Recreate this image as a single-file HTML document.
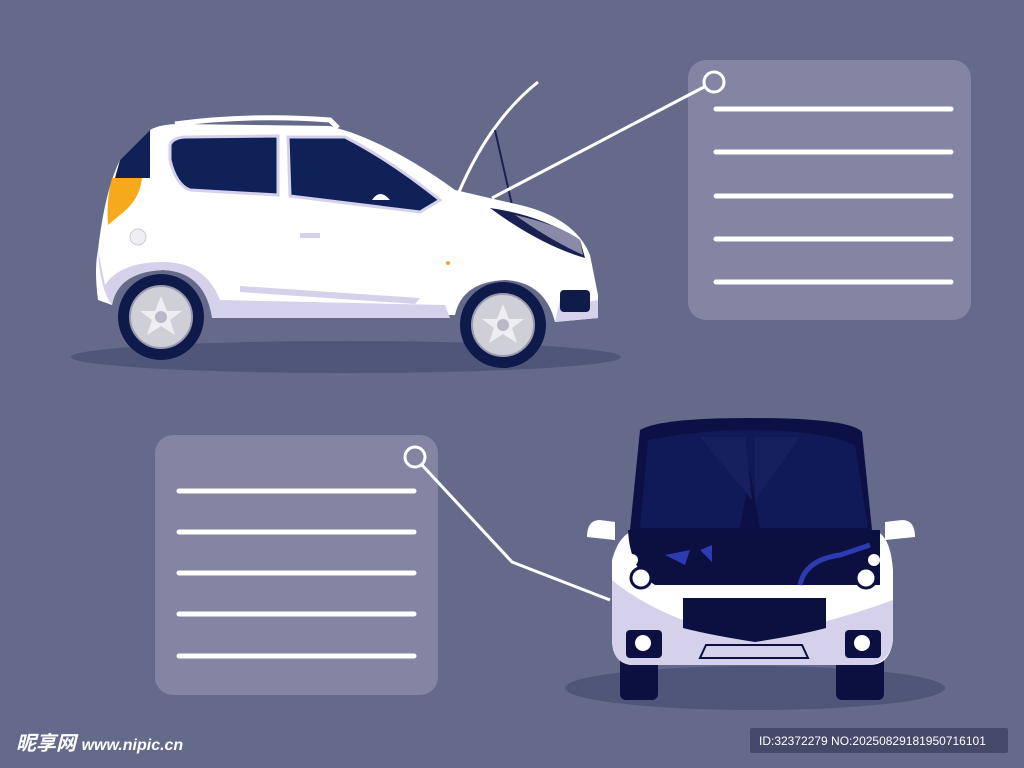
<!DOCTYPE html>
<html><head><meta charset="utf-8"><style>
html,body{margin:0;padding:0;width:1024px;height:768px;overflow:hidden;background:#656a8b}
</style></head><body>
<svg width="1024" height="768" viewBox="0 0 1024 768" xmlns="http://www.w3.org/2000/svg">
<rect width="1024" height="768" fill="#656a8b"/>
<rect x="688" y="60" width="283" height="260" rx="18" fill="#8385a2"/>
<rect x="155" y="435" width="283" height="260" rx="18" fill="#8385a2"/>
<g stroke="#fff" stroke-width="5" stroke-linecap="round">
<line x1="716" y1="109" x2="951" y2="109"/><line x1="716" y1="152" x2="951" y2="152"/>
<line x1="716" y1="196" x2="951" y2="196"/><line x1="716" y1="239" x2="951" y2="239"/>
<line x1="716" y1="282" x2="951" y2="282"/>
<line x1="179" y1="491" x2="414" y2="491"/><line x1="179" y1="532" x2="414" y2="532"/>
<line x1="179" y1="573" x2="414" y2="573"/><line x1="179" y1="614" x2="414" y2="614"/>
<line x1="179" y1="656" x2="414" y2="656"/>
</g>
<ellipse cx="346" cy="357" rx="275" ry="16" fill="#50557a"/>
<ellipse cx="755" cy="688" rx="190" ry="22" fill="#50557a"/>
<!-- side car -->
<path d="M459 192 Q490 120 538 82" stroke="#fff" stroke-width="3" fill="none"/>
<line x1="495" y1="130" x2="512" y2="205" stroke="#1a2050" stroke-width="2"/>
<path d="M175 124 Q250 114 330 120 L338 128" stroke="#fff" stroke-width="5" fill="none"/>
<path d="M150 130 Q160 124 180 124 L330 126 L350 132 Q400 150 455 190 L520 205 Q575 218 590 255 L598 295 L598 318 L555 322 Q545 282 505 280 Q462 282 455 315 L215 318 Q210 272 163 270 Q118 272 112 305 L98 300 Q94 270 98 250 Q105 190 120 160 Z" fill="#fff"/>
<path d="M98 250 Q100 290 112 305 Q118 272 163 270 Q205 272 212 318 L450 318 L445 305 L220 300 Q205 262 163 262 Q120 262 105 285 Z" fill="#d5d1ea"/>
<path d="M240 286 L420 298 L415 304 L240 292 Z" fill="#d5d1ea"/>
<path d="M555 322 L598 318 L598 300 Q575 305 560 300 Z" fill="#d5d1ea"/>
<path d="M120 160 L150 130 L150 178 L115 178 Z" fill="#0f2157"/>
<path d="M112 178 L142 178 Q140 200 120 215 L108 225 Q106 200 112 178 Z" fill="#f7a91c"/>
<path d="M170 145 Q172 138 185 137 L278 136 L278 195 L190 190 Q176 185 170 160 Z" fill="#0f2157" stroke="#d5d1ea" stroke-width="3"/>
<path d="M288 137 L345 137 Q390 160 440 200 L420 212 L290 196 Z" fill="#0f2157" stroke="#d5d1ea" stroke-width="3"/>
<path d="M372 200 Q380 188 390 200 Z" fill="#fff"/>
<path d="M490 208 Q540 215 580 240 L585 258 Q540 245 490 208 Z" fill="#1a2050"/>
<path d="M515 215 Q560 225 580 240 L583 255 Q550 240 515 215Z" fill="#8a89a8"/>
<circle cx="138" cy="237" r="8" fill="#eeeef5" stroke="#ccc"/>
<rect x="300" y="233" width="20" height="5" fill="#d5d1ea"/>
<rect x="560" y="290" width="30" height="22" rx="4" fill="#0f1c4a"/>
<circle cx="448" cy="263" r="2" fill="#f7a91c"/>
<g>
<circle cx="161" cy="317" r="43" fill="#0e1a4a"/>
<circle cx="161" cy="317" r="31" fill="#cfcfd8" stroke="#9a9aae" stroke-width="2"/>
<polygon points="161,296 167,311 182,311 170,320 175,335 161,326 147,335 152,320 140,311 155,311" fill="#eeeef2"/>
<circle cx="161" cy="317" r="6" fill="#b8b8c6"/>
<circle cx="503" cy="325" r="43" fill="#0e1a4a"/>
<circle cx="503" cy="325" r="31" fill="#cfcfd8" stroke="#9a9aae" stroke-width="2"/>
<polygon points="503,304 509,319 524,319 512,328 517,343 503,334 489,343 494,328 482,319 497,319" fill="#eeeef2"/>
<circle cx="503" cy="325" r="6" fill="#b8b8c6"/>
</g>
<g stroke="#fff" stroke-width="3" fill="none">
<line x1="704" y1="87" x2="492" y2="198"/>
<circle cx="714" cy="82" r="10" fill="#8385a2"/>
<polyline points="422,465 512,562 610,600"/>
<circle cx="415" cy="457" r="10" fill="#8385a2"/>
</g>
<!-- front car -->
<rect x="620" y="640" width="38" height="60" rx="6" fill="#0b1040"/>
<rect x="836" y="640" width="48" height="60" rx="6" fill="#0b1040"/>
<path d="M612 560 Q620 530 640 530 L870 530 Q890 530 893 570 L893 640 Q890 665 870 665 L630 665 Q612 660 612 640 Z" fill="#fff"/>
<path d="M612 580 L612 640 Q612 662 630 665 L870 665 Q890 662 893 640 L893 600 Q840 620 750 640 Q660 620 612 580Z" fill="#d5d1ea"/>
<path d="M640 430 Q660 418 750 418 Q850 418 862 432 L872 530 L630 530 Z" fill="#0c1045"/>
<path d="M648 440 Q700 430 750 430 Q820 430 855 445 L868 528 L760 528 L750 470 L740 528 L640 528 Z" fill="#111a58"/>
<path d="M700 437 L745 437 L752 500 Z M755 437 L800 437 L755 500 Z" fill="#17205f"/>
<path d="M628 530 L880 530 L880 585 L655 585 Q630 570 628 530Z" fill="#0b1040"/>
<path d="M665 555 L690 550 L685 565 Z M700 550 L712 545 L712 562 Z" fill="#2d3ab0"/>
<path d="M800 585 Q805 560 840 555 L870 545" stroke="#2d3ab0" stroke-width="5" fill="none"/>
<circle cx="641" cy="578" r="10" fill="#fff" stroke="#0b1040" stroke-width="3"/>
<circle cx="632" cy="560" r="6" fill="#fff"/>
<circle cx="866" cy="578" r="10" fill="#fff" stroke="#0b1040" stroke-width="3"/>
<circle cx="874" cy="560" r="6" fill="#fff"/>
<path d="M683 598 L826 598 L826 628 Q800 635 755 642 Q710 635 683 628 Z" fill="#0b1040"/>
<rect x="626" y="630" width="36" height="28" rx="4" fill="#0b1040"/><circle cx="643" cy="643" r="8" fill="#fff"/>
<rect x="845" y="630" width="36" height="28" rx="4" fill="#0b1040"/><circle cx="862" cy="643" r="8" fill="#fff"/>
<path d="M700 658 L808 658 L802 645 L706 645 Z" fill="none" stroke="#0b1040" stroke-width="2"/>
<path d="M587 537 Q587 520 600 520 L615 522 L615 540 Z" fill="#fff"/>
<path d="M915 537 Q915 520 902 520 L885 522 L885 540 Z" fill="#fff"/>
<text x="16" y="750" font-family="'Liberation Sans','Noto Sans CJK SC',sans-serif" font-size="20" font-weight="bold" font-style="italic" fill="#fff">昵享网 <tspan font-size="16">www.nipic.cn</tspan></text>
<rect x="750" y="728" width="258" height="25" rx="2" fill="#45496a"/>
<text x="759" y="745" font-family="'Liberation Sans',sans-serif" font-size="12" fill="#fff">ID:32372279 NO:20250829181950716101</text>
</svg>
</body></html>
